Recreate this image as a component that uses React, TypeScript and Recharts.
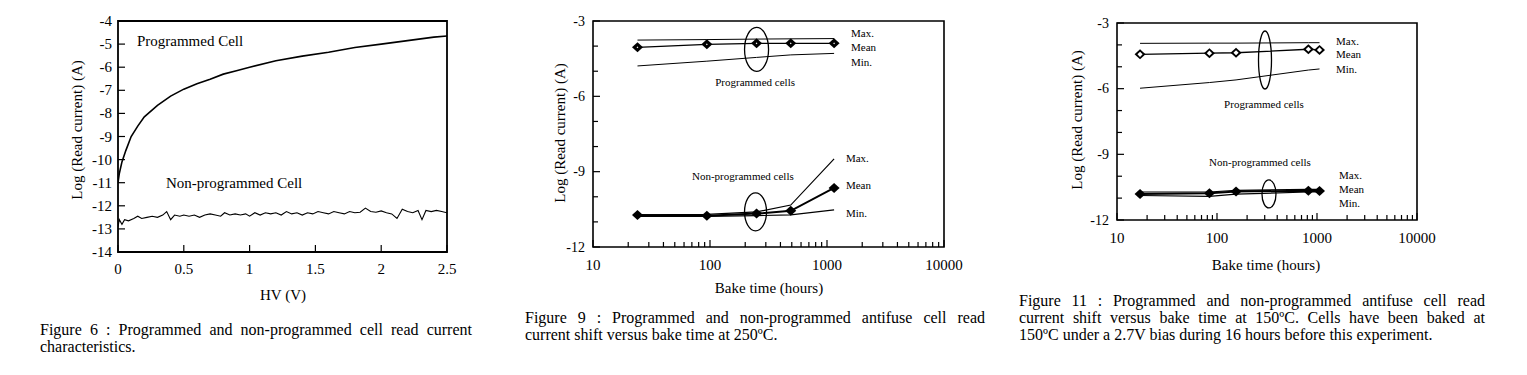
import React from "react";
import { LineChart, Line, XAxis, YAxis, ReferenceArea, ReferenceDot } from "recharts";

const SERIF = '"Liberation Serif", "Times New Roman", serif';

// Figure 6 : read current vs HV
const hvProg = [0, 0.01, 0.03, 0.06, 0.1, 0.15, 0.2, 0.3, 0.4, 0.5, 0.6, 0.7, 0.8, 0.9, 1.0, 1.2, 1.4, 1.6, 1.8, 2.0, 2.2, 2.4, 2.5];
const logProg = [-11.0, -10.6, -10.1, -9.6, -9.0, -8.55, -8.15, -7.65, -7.25, -6.95, -6.72, -6.52, -6.3, -6.15, -6.0, -5.72, -5.52, -5.35, -5.15, -5.0, -4.85, -4.7, -4.65];
const hvNon = [0, 0.01, 0.03, 0.05, 0.08, 0.12, 0.15, 0.18, 0.22, 0.26, 0.3, 0.34, 0.37, 0.4, 0.43, 0.47, 0.5, 0.54, 0.58, 0.62, 0.66, 0.7, 0.74, 0.78, 0.81, 0.85, 0.89, 0.93, 0.97, 1.0, 1.04, 1.08, 1.12, 1.16, 1.2, 1.24, 1.28, 1.32, 1.36, 1.4, 1.44, 1.48, 1.52, 1.56, 1.6, 1.64, 1.68, 1.72, 1.76, 1.8, 1.84, 1.88, 1.92, 1.96, 2.0, 2.04, 2.08, 2.12, 2.16, 2.2, 2.24, 2.28, 2.31, 2.34, 2.38, 2.42, 2.46, 2.5];
const logNon = [-12.9, -12.6, -12.8, -12.6, -12.65, -12.55, -12.45, -12.55, -12.5, -12.45, -12.5, -12.4, -12.25, -12.6, -12.4, -12.45, -12.4, -12.45, -12.4, -12.5, -12.4, -12.35, -12.4, -12.45, -12.3, -12.4, -12.35, -12.4, -12.35, -12.45, -12.3, -12.4, -12.3, -12.35, -12.3, -12.4, -12.25, -12.35, -12.3, -12.4, -12.3, -12.35, -12.25, -12.3, -12.35, -12.25, -12.3, -12.35, -12.25, -12.3, -12.28, -12.1, -12.25, -12.28, -12.22, -12.3, -12.35, -12.55, -12.15, -12.25, -12.3, -12.2, -12.6, -12.2, -12.25, -12.2, -12.25, -12.3];
const hvTicks = [0, 0.5, 1, 1.5, 2, 2.5];
const fig6YTicks = [-14, -13, -12, -11, -10, -9, -8, -7, -6, -5, -4];

// Figure 9 : bake at 250°C
const bake250 = [24, 94, 250, 490, 1150];
const progMax250 = [-3.76, -3.74, -3.72, -3.71, -3.7];
const progMean250 = [-4.05, -3.93, -3.89, -3.89, -3.89];
const progMin250 = [-4.79, -4.6, -4.45, -4.35, -4.29];
const nonMax250 = [-10.72, -10.7, -10.6, -10.33, -8.49];
const nonMean250 = [-10.73, -10.76, -10.67, -10.56, -9.65];
const nonMin250 = [-10.78, -10.78, -10.75, -10.72, -10.52];

// Figure 11 : bake at 150°C
const bake150 = [17, 84, 155, 820, 1060];
const progMax150 = [-3.93, -3.92, -3.92, -3.9, -3.9];
const progMean150 = [-4.43, -4.38, -4.36, -4.2, -4.23];
const progMin150 = [-5.98, -5.72, -5.6, -5.15, -5.1];
const nonMax150 = [-10.72, -10.72, -10.65, -10.6, -10.6];
const nonMean150 = [-10.81, -10.78, -10.7, -10.66, -10.67];
const nonMin150 = [-10.88, -10.92, -10.82, -10.72, -10.72];

const logTicks = [10, 20, 30, 40, 50, 60, 70, 80, 90, 100, 200, 300, 400, 500, 600, 700, 800, 900, 1000, 2000, 3000, 4000, 5000, 6000, 7000, 8000, 9000, 10000];
const decades = [10, 100, 1000, 10000];
const bakeYTicks = [-12, -11, -10, -9, -8, -7, -6, -5, -4, -3];
const bakeYLabels = [-12, -9, -6, -3];

const toTable = (xs: number[], cols: Record<string, number[]>) =>
  xs.map((x, i) => {
    const row: any = { x };
    Object.keys(cols).forEach((k) => (row[k] = cols[k][i]));
    return row;
  });

const table250 = toTable(bake250, { pMax: progMax250, pMean: progMean250, pMin: progMin250, nMax: nonMax250, nMean: nonMean250, nMin: nonMin250 });
const table150 = toTable(bake150, { pMax: progMax150, pMean: progMean150, pMin: progMin150, nMax: nonMax150, nMean: nonMean150, nMin: nonMin150 });
const prog6 = hvProg.map((x, i) => ({ x, y: logProg[i] }));
const non6 = hvNon.map((x, i) => ({ x, y: logNon[i] }));

// ticks point into the plot, labels only on the major ones
const bottomTick = (labels: number[], dy: number) => (p: any) => {
  const v = p.payload.value;
  const major = labels.includes(v);
  return (
    <g>
      <line x1={p.x} x2={p.x} y1={p.y} y2={p.y - (major ? 7 : 5)} stroke="#000" strokeWidth={1.2} />
      {major && (
        <text x={p.x} y={p.y + dy} textAnchor="middle" dominantBaseline="central" fontSize={15} fontFamily={SERIF} fill="#000">
          {String(v)}
        </text>
      )}
    </g>
  );
};

const leftTick = (labels: number[], gap: number, size: number) => (p: any) => {
  const v = p.payload.value;
  const major = labels.includes(v);
  return (
    <g>
      <line x1={p.x} x2={p.x + (major ? 7 : 5)} y1={p.y} y2={p.y} stroke="#000" strokeWidth={1.2} />
      {major && (
        <text x={p.x - gap} y={p.y} textAnchor="end" dominantBaseline="central" fontSize={size} fontFamily={SERIF} fill="#000">
          {String(v)}
        </text>
      )}
    </g>
  );
};

const diamond = (inner: number) => (p: any) => {
  const { cx, cy } = p;
  return (
    <g key={`d-${p.index}`}>
      <path d={`M${cx},${cy - 5} L${cx + 5.5},${cy} L${cx},${cy + 5} L${cx - 5.5},${cy} Z`} fill="#000" />
      {inner > 0 && (
        <path d={`M${cx},${cy - inner} L${cx + inner},${cy} L${cx},${cy + inner} L${cx - inner},${cy} Z`} fill="#fff" />
      )}
    </g>
  );
};

const note = (key: string, x: number, y: number, text: string, size = 11, anchor = "start") => (
  <ReferenceDot
    key={key}
    x={x}
    y={y}
    r={0}
    ifOverflow="visible"
    shape={(p: any) => (
      <text x={p.cx} y={p.cy} textAnchor={anchor as any} dominantBaseline="central" fontSize={size} fontFamily={SERIF} fill="#000">
        {text}
      </text>
    )}
  />
);

const ring = (key: string, x: number, y: number, rx: number, ry: number) => (
  <ReferenceDot
    key={key}
    x={x}
    y={y}
    r={0}
    ifOverflow="visible"
    shape={(p: any) => <ellipse cx={p.cx} cy={p.cy} rx={rx} ry={ry} fill="none" stroke="#000" strokeWidth={1.3} />}
  />
);

const Title = ({ x, y, text, rotate }: { x: number; y: number; text: string; rotate?: boolean }) => (
  <div
    style={{
      position: "absolute",
      left: x,
      top: y,
      transform: `translate(-50%, -50%)${rotate ? " rotate(-90deg)" : ""}`,
      whiteSpace: "nowrap",
      fontFamily: SERIF,
      fontSize: 15,
      color: "#000",
    }}
  >
    {text}
  </div>
);

const Caption = ({ x, y, width, lines }: { x: number; y: number; width: number; lines: string[] }) => (
  <div style={{ position: "absolute", left: x, top: y, width, fontFamily: SERIF, fontSize: 16, lineHeight: "17px", color: "#000" }}>
    {lines.map((l, i) => (
      <div key={i} style={{ textAlign: "justify", textAlignLast: i < lines.length - 1 ? "justify" : "left", whiteSpace: "nowrap" }}>
        {l}
      </div>
    ))}
  </div>
);

const BakeChart = ({ data, width, height, margin, ann }: any) => (
  <LineChart width={width} height={height} data={data} margin={margin}>
    <XAxis
      dataKey="x"
      type="number"
      scale="log"
      domain={[10, 10000]}
      allowDataOverflow
      ticks={logTicks}
      interval={0}
      tickSize={0}
      tickMargin={0}
      tickLine={false}
      axisLine={false}
      tick={bottomTick(decades, 18)}
      height={40}
    />
    <YAxis
      type="number"
      domain={[-12, -3]}
      allowDataOverflow
      ticks={bakeYTicks}
      interval={0}
      tickSize={0}
      tickMargin={0}
      tickLine={false}
      axisLine={false}
      tick={leftTick(bakeYLabels, 8, 14)}
      width={60}
    />
    <ReferenceArea x1={10} x2={10000} y1={-12} y2={-3} fill="none" stroke="#000" strokeWidth={1.6} ifOverflow="visible" />
    <Line dataKey="pMax" stroke="#000" strokeWidth={1} dot={false} isAnimationActive={false} />
    <Line dataKey="pMin" stroke="#000" strokeWidth={1} dot={false} isAnimationActive={false} />
    <Line dataKey="pMean" stroke="#000" strokeWidth={1.3} dot={diamond(ann.progInner)} isAnimationActive={false} />
    <Line dataKey="nMax" stroke="#000" strokeWidth={1.2} dot={false} isAnimationActive={false} />
    <Line dataKey="nMin" stroke="#000" strokeWidth={1.2} dot={false} isAnimationActive={false} />
    <Line dataKey="nMean" stroke="#000" strokeWidth={2} dot={diamond(0)} isAnimationActive={false} />
    {ring("r1", ann.ringP[0], ann.ringP[1], ann.ringP[2], ann.ringP[3])}
    {ring("r2", ann.ringN[0], ann.ringN[1], ann.ringN[2], ann.ringN[3])}
    {note("t1", ann.progText[0], ann.progText[1], "Programmed cells", 11, "middle")}
    {note("t2", ann.nonText[0], ann.nonText[1], "Non-programmed cells", 11, "middle")}
    {note("u1", ann.upper[0], ann.upper[1], "Max.")}
    {note("u2", ann.upper[0], ann.upper[2], "Mean")}
    {note("u3", ann.upper[0], ann.upper[3], "Min.")}
    {note("l1", ann.lower[0], ann.lower[1], "Max.")}
    {note("l2", ann.lower[0], ann.lower[2], "Mean")}
    {note("l3", ann.lower[0], ann.lower[3], "Min.")}
  </LineChart>
);

export default function App() {
  return (
    <div style={{ position: "absolute", left: 0, top: 0, width: 1527, height: 375, background: "#fff", overflow: "hidden" }}>
      {/* Figure 6 */}
      <div style={{ position: "absolute", left: 0, top: 0 }}>
        <LineChart width={470} height={310} margin={{ top: 21, right: 23, bottom: 8, left: 58 }}>
          <XAxis
            dataKey="x"
            type="number"
            domain={[0, 2.5]}
            allowDataOverflow
            ticks={hvTicks}
            interval={0}
            tickSize={0}
            tickMargin={0}
            tickLine={false}
            axisLine={false}
            tick={bottomTick(hvTicks, 17)}
            height={50}
          />
          <YAxis
            type="number"
            domain={[-14, -4]}
            allowDataOverflow
            ticks={fig6YTicks}
            interval={0}
            tickSize={0}
            tickMargin={0}
            tickLine={false}
            axisLine={false}
            tick={leftTick(fig6YTicks, 6, 15)}
            width={60}
          />
          <ReferenceArea x1={0} x2={2.5} y1={-14} y2={-4} fill="none" stroke="#000" strokeWidth={1.8} ifOverflow="visible" />
          <Line data={prog6} dataKey="y" stroke="#000" strokeWidth={1.6} dot={false} isAnimationActive={false} />
          <Line data={non6} dataKey="y" stroke="#000" strokeWidth={1.1} dot={false} isAnimationActive={false} />
          {note("p6", 0.144, -4.87, "Programmed Cell", 15)}
          {note("n6", 0.365, -11.01, "Non-programmed Cell", 15)}
        </LineChart>
      </div>
      <Title x={77} y={130} text="Log (Read current) (A)" rotate />
      <Title x={283} y={295} text="HV (V)" />
      <Caption
        x={40}
        y={321}
        width={432}
        lines={["Figure 6 : Programmed and non-programmed cell read current", "characteristics."]}
      />

      {/* Figure 9 */}
      <div style={{ position: "absolute", left: 480, top: 0 }}>
        <BakeChart
          data={table250}
          width={490}
          height={300}
          margin={{ top: 21, right: 26, bottom: 13, left: 53 }}
          ann={{
            progInner: 0.9,
            ringP: [250, -4.13, 12, 22],
            ringN: [245, -10.6, 11, 19],
            progText: [243, -5.43],
            nonText: [191, -9.16],
            upper: [1603, -3.48, -4.04, -4.64],
            lower: [1452, -8.44, -9.52, -10.64],
          }}
        />
      </div>
      <Title x={560} y={133} text="Log (Read current) (A)" rotate />
      <Title x={769} y={288} text="Bake time (hours)" />
      <Caption
        x={525}
        y={309}
        width={460}
        lines={["Figure 9 : Programmed and non-programmed antifuse cell read", "current shift versus bake time at 250ºC."]}
      />

      {/* Figure 11 */}
      <div style={{ position: "absolute", left: 1000, top: 0 }}>
        <BakeChart
          data={table150}
          width={440}
          height={280}
          margin={{ top: 23, right: 23, bottom: 20, left: 57 }}
          ann={{
            progInner: 2.6,
            ringP: [302, -4.69, 6.5, 29],
            ringN: [331, -10.81, 7, 14],
            progText: [295, -6.7],
            nonText: [269, -9.35],
            upper: [1549, -3.82, -4.42, -5.1],
            lower: [1660, -9.94, -10.58, -11.22],
          }}
        />
      </div>
      <Title x={1077} y={120} text="Log (Read current) (A)" rotate />
      <Title x={1266} y={265} text="Bake time (hours)" />
      <Caption
        x={1019}
        y={292}
        width={466}
        lines={[
          "Figure 11 : Programmed and non-programmed antifuse cell read",
          "current shift versus bake time at 150ºC. Cells have been baked at",
          "150ºC under a 2.7V bias during 16 hours before this experiment.",
        ]}
      />
    </div>
  );
}
